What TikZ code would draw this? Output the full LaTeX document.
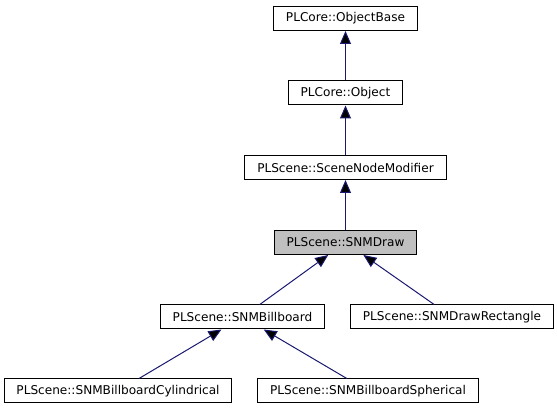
\documentclass[tikz,border=0pt]{standalone}
\usepackage{fontspec}
\setmainfont{DejaVu Sans}
\usetikzlibrary{arrows.meta}

\definecolor{edgeblue}{RGB}{25,25,112}
\definecolor{curgray}{RGB}{191,191,191}

\tikzset{
  classbox/.style={draw=black, line width=1pt, fill=white, minimum height=24pt,
    inner xsep=12.4pt, inner ysep=0pt, font=\fontsize{12.1pt}{14pt}\selectfont},
  inherit/.style={draw=edgeblue, line width=1pt,
    {Triangle[length=13pt,width=11pt]}-}
}

\begin{document}
\begin{tikzpicture}[x=1pt, y=-1pt]
  \useasboundingbox (0,0) rectangle (557,411);
  \node[classbox] (base) at (345.5,18.5) {PLCore::ObjectBase};
  \node[classbox] (obj) at (345.5,93) {PLCore::Object};
  \node[classbox] (snm) at (345.5,167.5) {PLScene::SceneNodeModifier};
  \node[classbox, fill=curgray] (snmdraw) at (345.5,242.5) {PLScene::SNMDraw};
  \node[classbox] (billboard) at (242.5,317) {PLScene::SNMBillboard};
  \node[classbox] (drawrect) at (452,317) {PLScene::SNMDrawRectangle};
  \node[classbox] (cyl) at (118,391) {PLScene::SNMBillboardCylindrical};
  \node[classbox] (sph) at (368,391) {PLScene::SNMBillboardSpherical};
  \path[inherit]
  (base) edge (obj)
  (obj) edge (snm)
  (snm) edge (snmdraw)
  (snmdraw) edge (billboard)
  (snmdraw) edge (drawrect)
  (billboard) edge (cyl)
  (billboard) edge (sph)
  ;
\end{tikzpicture}
\end{document}
